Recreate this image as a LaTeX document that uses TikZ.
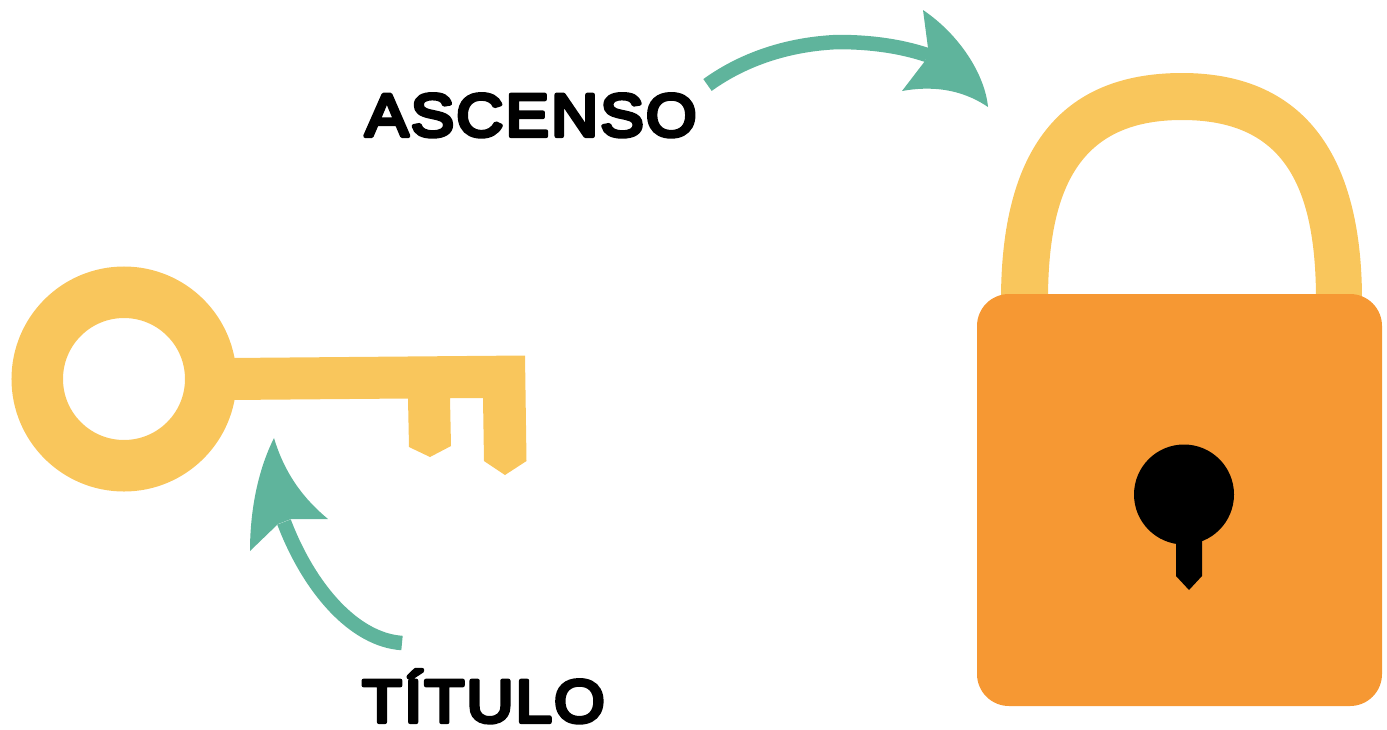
\documentclass[tikz,border=0pt]{standalone}
\usepackage{fontspec}
\newfontfamily\labelfont{Liberation Sans}[FakeBold=7,FakeStretch=1.08,LetterSpace=4]
\definecolor{keyyellow}{HTML}{F9C65C}
\definecolor{lockorange}{HTML}{F69833}
\definecolor{arrowteal}{HTML}{5FB49C}
\begin{document}
\begin{tikzpicture}
	[x=1pt,y=-1pt,
	label text/.style={anchor=base west,inner sep=0pt,font=\fontsize{60}{64}\labelfont},
	key part/.style={fill=keyyellow},
	arrow head/.style={fill=arrowteal},
	arrow shaft/.style={draw=arrowteal,line width=14.5pt,line cap=butt},]
	\useasboundingbox (0,0) rectangle (1387,729);
	\node (bow) at (124,379) [circle,draw=keyyellow,line width=51.5pt,minimum size=173.5pt,inner sep=0pt] {};
	\fill[key part] (230,358) -- (525,355.5) -- (526.5,461) -- (505,475) -- (484,461) -- (483,398)
		-- (450,398) -- (451,446) -- (430,457) -- (409,447) -- (408,398.5) -- (230,400) -- cycle;
	\fill[key part] (1001,300) .. controls (1001,150) and (1060,73) .. (1182,73)
		.. controls (1300,73) and (1362,150) .. (1362,300)
		-- (1316,300) .. controls (1316,180) and (1280,120) .. (1182,120)
		.. controls (1085,120) and (1048,180) .. (1048,300) -- cycle;
	\node (body) at (1179.5,500) [fill=lockorange,rounded corners=32pt,minimum width=405pt,minimum height=412pt,inner sep=0pt] {};
	\node (hole) at (1184,494.5) [circle,fill=black,minimum size=100pt,inner sep=0pt] {};
	\fill (1176,530) -- (1202,530) -- (1202,576) -- (1189,590) -- (1176,576) -- cycle;
	\node (ascenso) at (365,136) [label text] {\special{pdf:code 1 j 1 J}ASCENSO};
	\node (titulo) at (362,722) [label text] {\special{pdf:code 1 j 1 J}TÍTULO};
	\coordinate (ascenso tail) at (707.5,85);
	\coordinate (ascenso end) at (927,55);
	\coordinate (titulo tail) at (402,643);
	\coordinate (titulo end) at (284,522);
	\draw[arrow shaft] (ascenso tail) .. controls (745,58) and (790,44) .. (838,42) .. controls (870,42) and (900,46) .. (ascenso end);
	\fill[arrow head] (923,10) .. controls (960,35) and (985,75) .. (988,107)
		.. controls (960,88) and (930,86) .. (902,91) -- (925,61) -- (928,48) -- cycle;
	\draw[arrow shaft] (titulo tail) .. controls (355,640) and (310,590) .. (titulo end);
	\fill[arrow head] (274,438) .. controls (285,475) and (305,500) .. (328,519) -- (291,519) -- (278,524)
		-- (250,551) .. controls (250,510) and (258,470) .. (274,438) -- cycle;
\end{tikzpicture}
\end{document}
